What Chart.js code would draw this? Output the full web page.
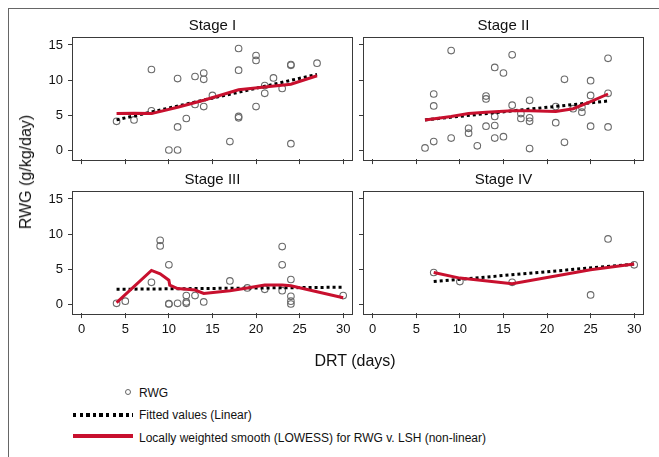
<!DOCTYPE html>
<html>
<head>
<meta charset="utf-8">
<script src="https://cdn.jsdelivr.net/npm/chart.js@4.4.1/dist/chart.umd.min.js"></script>
<style>
  body { margin: 0; background: #fff; }
  #page { position: relative; width: 659px; height: 457px; overflow: hidden;
          font-family: "Liberation Sans", Arial, sans-serif; color: #111; }
  #page canvas { position: absolute; }
  .outer { position: absolute; left: 8px; top: 8px; width: 700px; height: 500px;
           border-left: 1px solid #666; border-top: 1px solid #666; }
  .txt { position: absolute; white-space: nowrap; }
  .ytitle { left: 26px; top: 172px; font-size: 16px;
            transform: translate(-50%, -50%) rotate(-90deg); }
  .xtitle { left: 355px; top: 361px; font-size: 16px; transform: translate(-50%, -50%); }
  .leg { font-size: 12px; line-height: 14px; left: 139px; }
  .dot { position: absolute; left: 125px; top: 389px; width: 6px; height: 6px;
         border: 1.2px solid #666; border-radius: 50%; box-sizing: border-box; }
  .dash { position: absolute; left: 73px; top: 413px; width: 60px; height: 3.5px;
          background: repeating-linear-gradient(90deg, #000 0 3.5px, transparent 3.5px 6.6px); }
  .smooth { position: absolute; left: 73px; top: 434px; width: 60px; height: 4px; background: #c8102e; }
</style>
</head>
<body>
<div id="page">
  <div class="outer"></div>
  <canvas id="c1" width="324" height="178" style="left:33px;top:11px"></canvas>
  <canvas id="c2" width="324" height="178" style="left:324px;top:11px"></canvas>
  <canvas id="c3" width="324" height="178" style="left:33px;top:165px"></canvas>
  <canvas id="c4" width="324" height="178" style="left:324px;top:165px"></canvas>
  <div class="txt ytitle">RWG (g/kg/day)</div>
  <div class="txt xtitle">DRT (days)</div>
  <div class="dot"></div>
  <div class="txt leg" style="top:386px">RWG</div>
  <div class="dash"></div>
  <div class="txt leg" style="top:408px">Fitted values (Linear)</div>
  <div class="smooth"></div>
  <div class="txt leg" style="top:431px">Locally weighted smooth (LOWESS) for RWG v. LSH (non-linear)</div>
</div>
<script>
// ---------- Dades ----------
const stageTitles = ['Stage I', 'Stage II', 'Stage III', 'Stage IV'];
const xTicks = [0, 5, 10, 15, 20, 25, 30];
const yTicks = [0, 5, 10, 15];

// punts observats [DRT, RWG]
const rwg1 = [[4,4.1],[6,4.3],[8,11.5],[8,5.6],[10,0],[11,10.2],[11,3.3],[11,0],[12,4.5],
  [13,10.5],[13,6.5],[14,11],[14,10.1],[14,6.2],[15,7.8],[17,1.2],[18,14.5],[18,11.4],
  [18,4.8],[18,4.6],[20,13.5],[20,12.8],[20,6.2],[21,9.2],[21,8.1],[22,10.3],[23,8.8],
  [24,12.2],[24,12.1],[24,0.9],[27,12.4]];
const rwg2 = [[6,0.3],[7,8],[7,6.3],[7,1.2],[9,14.2],[9,1.7],[11,3.1],[11,2.4],[12,0.6],
  [13,7.7],[13,7.3],[13,3.4],[14,11.8],[14,4.8],[14,3.5],[14,1.7],[15,11],[15,1.9],
  [16,13.6],[16,6.4],[17,5.2],[17,4.5],[18,7.1],[18,4.6],[18,4.1],[18,0.2],[21,6.2],
  [21,3.9],[22,10.1],[22,1.1],[23,5.9],[24,6.1],[24,5.4],[25,9.9],[25,7.8],[25,3.4],
  [27,13.1],[27,8.1],[27,3.3]];
const rwg3 = [[4,0.1],[5,0.4],[8,3.1],[9,9.1],[9,8.3],[10,5.6],[10,0.05],[10,0],[11,0.1],
  [12,1.2],[12,0.3],[12,0.1],[13,1.2],[14,0.3],[17,3.3],[19,2.3],[21,2.1],[23,8.2],
  [23,5.6],[23,1.9],[24,3.5],[24,1.1],[24,0.4],[24,0],[30,1.2]];
const rwg4 = [[7,4.5],[10,3.2],[16,3.1],[25,1.3],[27,9.3],[30,5.6]];

// recta ajustada (lineal)
const fit1 = [[4,4.3],[27,10.8]];
const fit2 = [[6,4.3],[27,7.0]];
const fit3 = [[4,2.1],[30,2.4]];
const fit4 = [[7,3.2],[30,5.7]];

// LOWESS
const lowess1 = [[4,5.2],[6,5.25],[8,5.2],[11,6.1],[14,7.1],[18,8.6],[21,9.0],[24,9.4],[27,10.6]];
const lowess2 = [[6,4.3],[9,4.8],[11,5.2],[13,5.4],[16,5.6],[18,5.6],[21,5.5],[23,5.9],[25,6.9],[27,8.0]];
const lowess3 = [[4,0.2],[8,4.8],[9,4.3],[10,3.4],[10.1,2.7],[11,2.2],[13,2.0],[14,1.5],
  [17,1.9],[19,2.3],[21,2.7],[23,2.7],[24,2.6],[30,0.9]];
const lowess4 = [[7,4.5],[10,3.7],[16,2.9],[25,4.9],[30,5.7]];

const rwgSets = [rwg1, rwg2, rwg3, rwg4];
const fitSets = [fit1, fit2, fit3, fit4];
const lowessSets = [lowess1, lowess2, lowess3, lowess4];

// ---------- Estil ----------
const FONT = '"Liberation Sans", Arial, sans-serif';
const FRAME = '#3a3a3a';
const RED = '#c8102e';

const toXY = arr => arr.map(p => ({ x: p[0], y: p[1] }));

const framePlugin = {
  id: 'frame',
  beforeDatasetsDraw(chart) {
    const a = chart.chartArea;
    const ctx = chart.ctx;
    ctx.save();
    ctx.strokeStyle = FRAME;
    ctx.lineWidth = 1;
    ctx.strokeRect(Math.round(a.left) - 0.5, Math.round(a.top) + 0.5,
      Math.round(a.right - a.left) + 1, Math.round(a.bottom - a.top));
    ctx.restore();
  }
};

function makePanel(i) {
  const showX = i >= 2;
  const showY = i % 2 === 0;
  const ctx = document.getElementById('c' + (i + 1));
  return new Chart(ctx, {
    type: 'scatter',
    data: {
      datasets: [
        {
          data: toXY(lowessSets[i]), showLine: true, borderColor: RED, borderWidth: 3,
          pointRadius: 0, order: 0, tension: 0
        },
        {
          data: toXY(fitSets[i]), showLine: true, borderColor: '#000', borderWidth: 3,
          borderDash: [3, 3], pointRadius: 0, order: 1
        },
        {
          data: toXY(rwgSets[i]), pointRadius: 3.3, pointBorderWidth: 1.1,
          pointBorderColor: '#6a6a6a', pointBackgroundColor: 'rgba(0,0,0,0)', order: 2
        }
      ]
    },
    options: {
      responsive: false,
      animation: false,
      layout: { padding: { left: 0, right: 4, top: 0, bottom: 0 } },
      plugins: {
        legend: { display: false },
        tooltip: { enabled: false },
        title: {
          display: true, text: stageTitles[i], fullSize: false, color: '#111',
          font: { family: FONT, size: 15, weight: 'normal', lineHeight: 1.2 },
          padding: { top: 5.5, bottom: 2.1 }
        }
      },
      scales: {
        x: {
          type: 'linear', min: -1, max: 31,
          afterBuildTicks: s => { s.ticks = xTicks.map(v => ({ value: v })); },
          afterFit: s => { s.height = 29.9; },
          grid: { drawOnChartArea: false, drawTicks: true, tickLength: 5, color: FRAME },
          border: { display: false },
          ticks: {
            padding: 4, maxRotation: 0, autoSkip: false, color: '#111',
            font: { family: FONT, size: 13 },
            callback: v => showX ? v : ''
          }
        },
        y: {
          type: 'linear', min: -1.3, max: 16.2,
          afterBuildTicks: s => { s.ticks = yTicks.map(v => ({ value: v })); },
          afterFit: s => { s.width = 40; },
          grid: { drawOnChartArea: false, drawTicks: true, tickLength: 5, color: FRAME },
          border: { display: false },
          ticks: {
            padding: 5, autoSkip: false, color: '#111',
            font: { family: FONT, size: 13 },
            callback: v => showY ? v : ''
          }
        }
      }
    },
    plugins: [framePlugin]
  });
}

stageTitles.forEach((t, i) => makePanel(i));
</script>
</body>
</html>
